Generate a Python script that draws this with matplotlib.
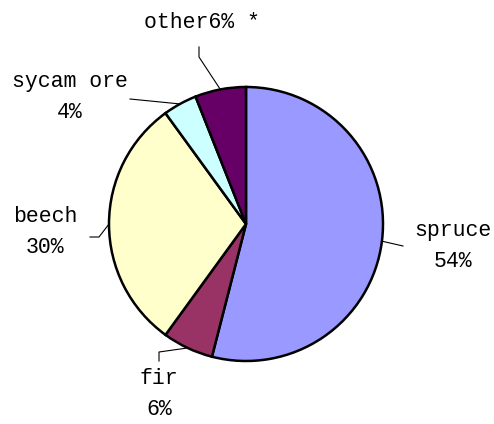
import matplotlib
matplotlib.use("Agg")
import matplotlib.pyplot as plt
import numpy as np

species = ["spruce", "fir", "beech", "sycamore", "other"]
shares = [54, 6, 30, 4, 6]
colors = ["#9999FF", "#993366", "#FFFFCC", "#CCFFFF", "#660066"]
labels = ["spruce\n54%", "fir\n6%", "beech\n30%", "sycam ore\n4%", "other6% *"]

# label centres and leader elbows, in pixel units (y measured from top)
label_pos = [(453, 246), (159, 394), (45, 232), (70, 97), (202, 22)]
elbows = [
    [(403, 246)],
    [(159, 361), (159, 352)],
    [(90, 237), (99, 237)],
    [(130, 99)],
    [(199, 47), (199, 57)],
]

W, H = 494, 424
cx, cy, r = 246, 224, 137

fig = plt.figure(figsize=(W / 100, H / 100), dpi=100)
ax = fig.add_axes([0, 0, 1, 1])

wedges, _ = ax.pie(shares, colors=colors, startangle=90, counterclock=False,
                   center=(cx, H - cy), radius=r, frame=True,
                   wedgeprops=dict(edgecolor="black", linewidth=1.8))
ax.set_xlim(0, W)
ax.set_ylim(0, H)
ax.set_aspect("equal")
ax.axis("off")

for w, lab, pos, elb in zip(wedges, labels, label_pos, elbows):
    mid = np.deg2rad((w.theta1 + w.theta2) / 2)
    ax_x = cx + r * np.cos(mid)
    ax_y = (H - cy) + r * np.sin(mid)
    xs = [p[0] for p in elb] + [ax_x]
    ys = [H - p[1] for p in elb] + [ax_y]
    ax.plot(xs, ys, color="black", linewidth=0.8)
    ax.text(pos[0], H - pos[1], lab, ha="center", va="center",
            fontsize=15.5, family="Liberation Mono", linespacing=1.65)

fig.savefig("out.png", dpi=100)
